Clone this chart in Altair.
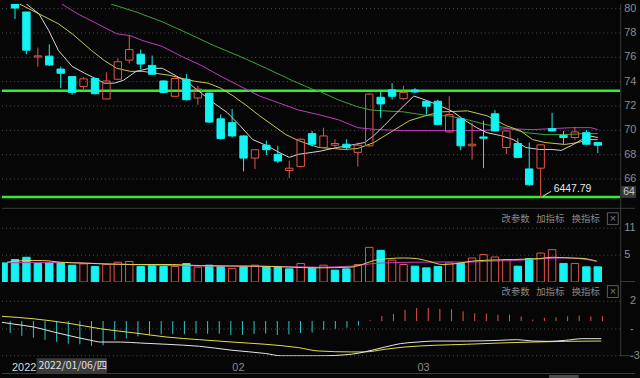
import altair as alt
import pandas as pd

BG = "#060606"
CYAN = "#14f2f2"
RED = "#e5564b"
GREEN = "#2ef02e"
GRID = "#555555"
AXC = "#8e8e8e"
SEP = "#3c3c3c"
CJK = "Noto Sans CJK SC"
LAT = "Liberation Sans"
W = 625

# ---------------- candles (index 1..52) ----------------
candle_idx = list(range(1, 53))
opens = [8060, 7973, 7603, 7610, 7504, 7442, 7361, 7426, 7258, 7420,
         7577, 7626, 7534, 7406, 7280, 7420, 7266, 7306, 7095, 7063,
         6954, 6772, 6878, 6803, 6670, 6702, 6973, 6859, 6878, 6886,
         6819, 6873, 7272, 7333, 7260, 7331, 7239, 7239, 6987, 7095,
         6873, 6946, 7136, 6859, 6892, 6683, 6689, 7014, 6959, 6941,
         6981, 6900]
closes = [8005, 7659, 7612, 7537, 7469, 7312, 7423, 7301, 7406, 7564,
          7664, 7545, 7461, 7312, 7426, 7252, 7339, 7068, 6933, 6954,
          6772, 6841, 6841, 6748, 6689, 6927, 6886, 6954, 6892, 6859,
          6878, 7298, 7217, 7280, 7312, 7315, 7198, 7049, 7130, 6873,
          6886, 6935, 6995, 6995, 6778, 6553, 6881, 6995, 6941, 6987,
          6886, 6878]
highs = [8080, 7973, 7680, 7707, 7524, 7442, 7437, 7434, 7477, 7591,
         7776, 7664, 7615, 7412, 7432, 7463, 7366, 7310, 7130, 7176,
         6960, 6845, 6916, 6873, 6751, 6935, 6995, 7022, 6927, 6927,
         6900, 7306, 7328, 7388, 7366, 7347, 7245, 7252, 7280, 7100,
         7063, 7079, 7166, 7000, 6933, 6900, 6886, 7144, 6995, 7028,
         7003, 6905]
lows = [7916, 7626, 7524, 7528, 7347, 7293, 7339, 7295, 7255, 7415,
        7550, 7502, 7455, 7306, 7275, 7245, 7211, 7060, 6925, 6941,
        6662, 6683, 6797, 6732, 6607, 6695, 6867, 6850, 6846, 6846,
        6702, 6865, 7103, 7252, 7252, 7306, 7130, 7040, 6981, 6837,
        6759, 6689, 6990, 6805, 6770, 6545, 6447.79, 6990, 6886, 6922,
        6880, 6813]
support_levels = [7325, 6453]
price_ticks = [8000, 7800, 7600, 7400, 7200, 7000, 6800, 6600]
price_tick_labels = ["80", "78", "76", "74", "72", "70", "68", "66"]

# moving averages on price
ma5_idx = [2.0, 3.1, 3.96, 4.8, 6.0, 7.1, 8.0, 8.8, 9.7, 10.5, 11.6, 12.8, 13.9, 15.0,
           16.2, 17.3, 18.4, 19.6, 20.7, 21.8, 23.0, 24.1, 25.0, 25.8, 27.0, 27.6,
           29.2, 30.7, 31.6, 32.4, 33.3, 34.4, 35.9, 36.9, 38.0, 39.2, 40.3, 41.4,
           42.3, 43.5, 44.6, 45.7, 46.9, 48.0, 48.8, 49.7, 50.6, 51.1, 52.0]
ma5_val = [8038, 7957, 7819, 7656, 7526, 7469, 7428, 7388, 7388, 7412, 7485, 7510, 7510,
           7453, 7388, 7306, 7225, 7144, 7038, 6924, 6876, 6819, 6778, 6803, 6819, 6827,
           6859, 6884, 6900, 6957, 7038, 7144, 7282, 7250, 7209, 7160, 7087, 7022, 6981,
           6957, 6924, 6859, 6843, 6843, 6835, 6876, 6924, 6957, 6941]
ma10_idx = [1.4, 3.1, 4.8, 6.0, 7.7, 8.8, 9.9, 11.1, 12.2, 13.3, 14.5, 15.6, 16.7, 17.9,
            19.0, 20.1, 21.3, 22.4, 23.5, 24.7, 25.8, 27.0, 27.6, 29.9, 31.0, 32.4, 34.1,
            35.5, 37.2, 38.4, 40.6, 42.3, 44.0, 45.2, 46.3, 47.4, 49.1, 50.3, 51.1, 52.0]
ma10_val = [8038, 7957, 7876, 7794, 7656, 7575, 7510, 7485, 7485, 7469, 7453, 7428, 7404,
            7388, 7347, 7282, 7201, 7120, 7046, 6965, 6916, 6876, 6859, 6843, 6851, 6900,
            6998, 7079, 7128, 7152, 7160, 7120, 7038, 6998, 6924, 6900, 6884, 6900, 6924, 6924]
ma20_idx = [5.1, 6.5, 8.2, 9.9, 11.1, 12.2, 13.9, 15.6, 17.3, 19.0, 20.7, 22.4, 24.1, 25.8,
            27.6, 29.3, 31.0, 32.7, 35.0, 37.2, 39.5, 41.8, 44.0, 46.3, 48.0, 49.7, 51.4, 52.0]
ma20_val = [8038, 7957, 7876, 7794, 7778, 7737, 7689, 7607, 7534, 7445, 7363, 7282, 7225,
            7168, 7128, 7087, 7022, 7006, 6998, 6998, 6998, 6998, 7014, 7006, 7014, 7022,
            7022, 7006]
ma60_idx = [9.4, 11.6, 13.9, 16.2, 18.4, 20.7, 23.0, 25.2, 27.0, 27.6, 29.3, 31.0, 32.1,
            33.3, 35.0, 37.2, 38.9, 40.6, 42.3, 44.0, 45.7, 47.4, 49.1, 50.8, 52.0]
ma60_val = [8038, 7973, 7892, 7794, 7697, 7607, 7510, 7412, 7339, 7323, 7250, 7193, 7168,
            7160, 7152, 7120, 7120, 7087, 7046, 7022, 6981, 6965, 6965, 6973, 6973]

# ---------------- volume (index 0..52) ----------------
vol_idx = list(range(0, 53))
vols = [3.91, 4.60, 5.06, 3.79, 3.91, 3.91, 3.44, 3.71, 3.18, 3.58,
        4.05, 4.19, 3.18, 3.50, 3.18, 3.18, 3.79, 3.04, 3.44, 3.18,
        2.77, 3.18, 3.44, 3.18, 3.18, 2.69, 3.79, 2.84, 3.44, 2.43,
        2.69, 3.58, 7.09, 6.48, 4.46, 3.58, 3.24, 2.90, 3.18, 3.91,
        3.85, 4.92, 5.61, 5.12, 4.60, 3.24, 4.80, 5.93, 6.62, 3.79,
        3.79, 3.10, 3.10]
vol_colors = list("cccccccrcrrrcccrcrccrcrcccrcrccrrcrrcccrcrrrrccrrcrcc")
vol_ticks = [11, 5.5]
vol_tick_labels = ["11", "5"]
vma5_idx = [0.3, 2.0, 3.4, 5.0, 7.1, 11.4, 14.8, 17.3, 22.4, 27.5, 30.4, 31.2, 32.4, 33.8,
            35.0, 36.1, 37.2, 38.4, 39.7, 40.9, 42.3, 44.6, 46.9, 48.0, 49.7, 50.8, 51.9]
vma5_val = [4.05, 4.39, 4.39, 4.05, 3.85, 3.58, 3.58, 3.34, 3.24, 2.90, 3.04, 3.44, 4.39,
            4.80, 4.92, 4.80, 4.25, 3.58, 3.79, 4.25, 4.46, 4.60, 4.80, 5.06, 4.92, 4.80, 4.25]
vma10_idx = [0.3, 5.4, 8.8, 13.1, 19.0, 24.1, 27.5, 30.4, 32.1, 33.3, 36.1, 38.9, 40.6,
             42.3, 44.6, 47.4, 49.1, 50.3, 51.9]
vma10_val = [3.95, 3.99, 3.71, 3.44, 3.24, 3.18, 3.04, 3.24, 3.71, 3.91, 4.05, 4.11, 4.05,
             4.25, 4.39, 4.80, 4.92, 4.80, 4.25]

# ---------------- MACD ----------------
macd_hist = [-12, -15, -16.8, -19, -21, -22.8, -23.5, -25, -24.5, -19,
             -17.5, -15.5, -14.5, -13.5, -13.3, -13.3, -12.5, -12.8, -12.8, -14,
             -14, -13, -12.5, -14, -13.5, -12, -11.5, -8.8, -7.8, -6.8,
             -4.5, 0.8, 5.0, 7.2, 11.3, 13.2, 13.2, 12.3, 12.0, 9.8,
             7.9, 7.6, 6.5, 6.5, 4.6, 1.5, 3.2, 3.8, 4.8, 5.5,
             4.6, 4.8]
dif_idx = [0.29, 1.15, 3.1, 4.8, 6.0, 7.96, 8.8, 10.5, 12.2, 14.5, 17.3, 20.1, 23.0, 24.4,
           27.5, 30.4, 31.5, 33.3, 34.6, 36.1, 37.5, 40.3, 43.1, 44.6, 46.0, 47.4, 48.8,
           50.3, 51.9]
dif_val = [-1.2, -2.8, -6.2, -11.2, -14.5, -19.5, -21.2, -21.2, -22.2, -23.5, -25.5, -29.5,
           -32.8, -35.2, -35.2, -33.5, -31.2, -26.2, -22.8, -21.2, -20.2, -20.2, -19.5,
           -18.8, -20.2, -20.5, -19.5, -17.8, -17.8]
dea_idx = [0.29, 3.1, 6.0, 8.8, 11.6, 14.5, 17.3, 20.1, 23.0, 25.8, 27.5, 30.4, 31.5, 33.3,
           35.0, 37.5, 40.3, 43.1, 46.0, 48.8, 51.9]
dea_val = [4.8, 2.2, -2.2, -7.8, -11.8, -16.2, -18.8, -21.2, -23.5, -26.8, -30.2, -31.2,
           -31.2, -28.5, -26.2, -24.5, -23.5, -22.2, -21.2, -20.5, -20.2]
macd_ticks = [20, -8, -35]
macd_tick_labels = ["2", "-", "-3"]

# ---------------- x labels ----------------
month_pos = [2.2, 20.65, 36.6]
month_labels = ["2022", "02", "03"]
tooltip_label = "2022/01/06/四"
header_labels = ["改参数", "加指标", "换指标"]

# ======================================================
xs = alt.Scale(domain=[0.293, 53.53], nice=False, zero=False)


def X(f="idx"):
    return alt.X(f"{f}:Q", scale=xs, axis=None)


def label(text, x, y, color, size, font=CJK, align="left"):
    return alt.Chart(pd.DataFrame({"t": [text]})).mark_text(
        align=align, baseline="middle", color=color, fontSize=size, font=font
    ).encode(x=alt.value(x), y=alt.value(y), text="t:N")


def hrule(y, x1, x2, color=SEP, width=1):
    return alt.Chart(pd.DataFrame({"a": [0]})).mark_rule(color=color, strokeWidth=width).encode(
        x=alt.value(x1), x2=alt.value(x2), y=alt.value(y))


def vrule(x, y1, y2, color=SEP):
    return alt.Chart(pd.DataFrame({"a": [0]})).mark_rule(color=color, strokeWidth=1).encode(
        x=alt.value(x), y=alt.value(y1), y2=alt.value(y2))


def yguide(values, labels, scale, xlab):
    gdf = pd.DataFrame({"v": values, "t": labels})
    grid = alt.Chart(gdf).mark_rule(color=GRID, strokeDash=[1, 3], strokeWidth=1).encode(
        y=alt.Y("v:Q", scale=scale, axis=None), x=alt.value(0), x2=alt.value(W))
    text = alt.Chart(gdf).mark_text(align="left", baseline="middle", color=AXC,
                                    fontSize=11, font=LAT).encode(
        y=alt.Y("v:Q", scale=scale, axis=None), x=alt.value(xlab), text="t:N")
    return [grid, text]


def line_layer(ix, vals, color, scale, width=1.0, interp="linear"):
    return alt.Chart(pd.DataFrame({"idx": ix, "v": vals})).mark_line(
        color=color, strokeWidth=width, clip=True, interpolate=interp).encode(
        x=X(), y=alt.Y("v:Q", scale=scale, axis=None))


def header(y):
    layers = []
    for t, x in zip(header_labels, [505, 540, 576]):
        layers.append(label(t, x, y, "#8a8a8a", 9.5))
    box = alt.Chart(pd.DataFrame({"a": [0]})).mark_rect(
        fill="transparent", stroke="#5e5e5e", strokeWidth=1).encode(
        x=alt.value(612), x2=alt.value(623), y=alt.value(y - 6), y2=alt.value(y + 6))
    layers.append(box)
    layers.append(label("×", 617.5, y, "#7a7a7a", 11, font=LAT, align="center"))
    return layers


up_cond = "datum.up"

# ---------------- price panel ----------------
cdf = pd.DataFrame({"idx": candle_idx, "open": opens, "close": closes, "high": highs, "low": lows})
cdf["up"] = cdf["close"] > cdf["open"]
cdf["top"] = cdf[["open", "close"]].max(axis=1)
cdf["bot"] = cdf[["open", "close"]].min(axis=1)

ysp = alt.Scale(domain=[6363.4, 8038.2], nice=False, zero=False)

greens = alt.Chart(pd.DataFrame({"p": support_levels})).mark_rule(
    color=GREEN, strokeWidth=2.5).encode(
    y=alt.Y("p:Q", scale=ysp, axis=None), x=alt.value(0), x2=alt.value(W))

ma_layers = [
    line_layer(ma60_idx, ma60_val, "#3aa83a", ysp),
    line_layer(ma20_idx, ma20_val, "#c23cc2", ysp),
    line_layer(ma10_idx, ma10_val, "#cfc84a", ysp),
    line_layer(ma5_idx, ma5_val, "#d6d6d6", ysp),
]

wick_hi = alt.Chart(cdf).mark_rule(strokeWidth=1, clip=True).encode(
    x=X(), y=alt.Y("high:Q", scale=ysp, axis=None), y2="top:Q",
    color=alt.condition(up_cond, alt.value(RED), alt.value(CYAN)))
wick_lo = alt.Chart(cdf).mark_rule(strokeWidth=1, clip=True).encode(
    x=X(), y=alt.Y("bot:Q", scale=ysp, axis=None), y2="low:Q",
    color=alt.condition(up_cond, alt.value(RED), alt.value(CYAN)))
bodies = alt.Chart(cdf).mark_bar(size=7.5, strokeWidth=1, clip=True).encode(
    x=X(), y=alt.Y("open:Q", scale=ysp, axis=None), y2="close:Q",
    fill=alt.condition(up_cond, alt.value("transparent"), alt.value(CYAN)),
    stroke=alt.condition(up_cond, alt.value(RED), alt.value(CYAN)))

low_row = cdf[cdf["low"] == cdf["low"].min()].copy()
low_row["t"] = low_row["low"].map(lambda v: f"{v:.2f}")
ann_line = alt.Chart(low_row).mark_rule(
    color="#dcdcdc", strokeWidth=1, xOffset=2.3, yOffset=-1.3, x2Offset=10.6, y2Offset=-6.3).encode(
    x=X(), y=alt.Y("low:Q", scale=ysp, axis=None), x2="idx:Q", y2="low:Q")
ann_text = alt.Chart(low_row).mark_text(
    align="left", baseline="middle", dx=13.3, dy=-8.6, color="#e6e6e6", fontSize=10.5, font=LAT).encode(
    x=X(), y=alt.Y("low:Q", scale=ysp, axis=None), text="t:N")

tag_box = alt.Chart(pd.DataFrame({"a": [0]})).mark_rect(fill="#3a3a3a").encode(
    x=alt.value(626), x2=alt.value(641), y=alt.value(184), y2=alt.value(196))
tag_text = label("64", 628, 190, "#c4c4c4", 10.5, font=LAT)

price = alt.layer(
    *yguide(price_ticks, price_tick_labels, ysp, 629),
    greens, *ma_layers, wick_hi, wick_lo, bodies, ann_line, ann_text,
    vrule(W + 0.5, 0, 206), tag_box, tag_text
).properties(width=W, height=206)

# ---------------- volume panel ----------------
vdf = pd.DataFrame({"idx": vol_idx, "vol": vols, "up": [c == "r" for c in vol_colors]})
ysv = alt.Scale(domain=[0, 15.19], nice=False, zero=False)
vbars = alt.Chart(vdf).mark_bar(size=7.5, strokeWidth=1, clip=True).encode(
    x=X(), y=alt.Y("vol:Q", scale=ysv, axis=None),
    y2=alt.datum(0),
    fill=alt.condition(up_cond, alt.value("transparent"), alt.value(CYAN)),
    stroke=alt.condition(up_cond, alt.value(RED), alt.value(CYAN)))
volume = alt.layer(
    *yguide(vol_ticks, vol_tick_labels, ysv, 629),
    vbars,
    line_layer(vma10_idx, vma10_val, "#c43cc4", ysv, interp="monotone"),
    line_layer(vma5_idx, vma5_val, "#e0d24e", ysv, interp="monotone"),
    hrule(0.5, 0, 640), hrule(74.5, W, 640), vrule(W + 0.5, 0, 75),
    *header(11)
).properties(width=W, height=75)

# ---------------- MACD panel ----------------
hdf = pd.DataFrame({"idx": candle_idx, "m": macd_hist})
ysm = alt.Scale(domain=[-35.5, 39.5], nice=False, zero=False)
hist = alt.Chart(hdf).mark_rule(strokeWidth=1, clip=True).encode(
    x=X(), y=alt.Y("m:Q", scale=ysm, axis=None),
    y2=alt.datum(0),
    color=alt.condition("datum.m >= 0", alt.value(RED), alt.value("#2fc8c8")))
macd = alt.layer(
    *yguide(macd_ticks, macd_tick_labels, ysm, 635),
    hist,
    line_layer(dea_idx, dea_val, "#e2e04e", ysm, interp="monotone"),
    line_layer(dif_idx, dif_val, "#e8e8e8", ysm, interp="monotone"),
    hrule(74.5, W, 640), vrule(W + 0.5, 0, 75),
    *header(9.7)
).properties(width=W, height=75)

# ---------------- bottom strip ----------------
mdf2 = pd.DataFrame({"idx": month_pos, "t": month_labels, "first": [True, False, False]})
months = alt.Chart(mdf2).mark_text(baseline="middle", align="center", fontSize=11, font=LAT).encode(
    x=X(), y=alt.value(12), text="t:N",
    color=alt.condition("datum.first", alt.value("#dadada"), alt.value("#8a8a8a")))
tip_box = alt.Chart(pd.DataFrame({"a": [0]})).mark_rect(fill="#3a3a3a").encode(
    x=alt.value(35), x2=alt.value(106), y=alt.value(2), y2=alt.value(17))
tip_text = label(tooltip_label, 37, 10, "#e2e2e2", 10.5)
scroll = alt.Chart(pd.DataFrame({"a": [0]})).mark_rect(fill="#4e4e4e").encode(
    x=alt.value(553), x2=alt.value(583), y=alt.value(19), y2=alt.value(22))
bottom = alt.layer(hrule(17.5, 0, 640), months, tip_box, tip_text, scroll).properties(
    width=W, height=22)

chart = alt.vconcat(price, volume, macd, bottom, spacing=0, bounds="flush").properties(
    background=BG, padding=0
).configure_view(stroke=None)

chart.save("out.html", embed_options={"renderer": "svg", "actions": False})
